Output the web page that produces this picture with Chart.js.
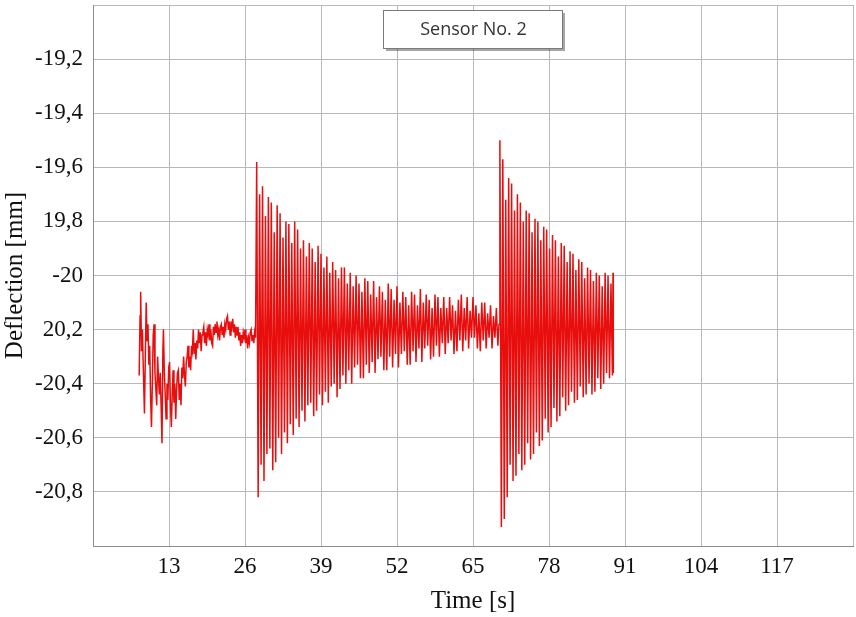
<!DOCTYPE html>
<html>
<head>
<meta charset="utf-8">
<script src="https://cdn.jsdelivr.net/npm/chart.js@4.4.1/dist/chart.umd.min.js"></script>
<style>
  html, body { margin: 0; padding: 0; background: #ffffff; }
  #wrap { width: 856px; height: 617px; position: relative; }
</style>
</head>
<body>
<div id="wrap"><canvas id="c" width="856" height="617"></canvas></div>
<script>
// ---------- DATA ----------
const seriesLabel = 'Sensor No. 2';
const xTitle = 'Time [s]';
const yTitle = 'Deflection [mm]';

const xTickValues = [13, 26, 39, 52, 65, 78, 91, 104, 117];
const xTickLabels = ['13', '26', '39', '52', '65', '78', '91', '104', '117'];
const yTickValues = [-19.2, -19.4, -19.6, -19.8, -20.0, -20.2, -20.4, -20.6, -20.8];
const yTickLabels = ['-19,2', '-19,4', '-19,6', '19,8', '-20', '20,2', '-20,4', '-20,6', '-20,8'];

// quiet phase before the first excitation: [time s, deflection mm]
const quietPhase = [
  [7.90,-20.37],[8.05,-20.15],[8.15,-20.06],[8.30,-20.28],[8.45,-20.20],[8.60,-20.34],[8.80,-20.51],
  [8.95,-20.30],[9.10,-20.10],[9.25,-20.24],[9.40,-20.18],[9.55,-20.33],[9.70,-20.26],[9.85,-20.45],
  [10.00,-20.56],[10.15,-20.40],[10.30,-20.22],[10.45,-20.18],[10.60,-20.36],[10.75,-20.42],[10.90,-20.48],
  [11.05,-20.30],[11.20,-20.38],[11.35,-20.44],[11.50,-20.36],[11.65,-20.48],[11.80,-20.62],[11.95,-20.28],
  [12.05,-20.20],[12.20,-20.36],[12.35,-20.44],[12.50,-20.53],[12.65,-20.40],[12.80,-20.46],[12.95,-20.34],
  [13.10,-20.32],[13.25,-20.48],[13.40,-20.56],[13.55,-20.44],[13.70,-20.35],[13.85,-20.47],[14.00,-20.40],
  [14.15,-20.53],[14.30,-20.42],[14.45,-20.36],[14.60,-20.35],[14.75,-20.46],[14.90,-20.40],[15.05,-20.48],
  [15.20,-20.34],[15.35,-20.38],[15.50,-20.30],[15.65,-20.37],[15.80,-20.41],[15.95,-20.32],[16.10,-20.30],
  [16.25,-20.26],[16.40,-20.34],[16.55,-20.30],[16.70,-20.35],[16.85,-20.26],[17.00,-20.28],[17.15,-20.20],
  [17.30,-20.29],[17.45,-20.25],[17.60,-20.31],[17.75,-20.24],[17.90,-20.27],[18.05,-20.20],[18.20,-20.25],
  [18.35,-20.21],[18.50,-20.28],[18.65,-20.22],[18.80,-20.21],[18.95,-20.19],[19.10,-20.25],[19.25,-20.21],
  [19.40,-20.26],[19.55,-20.20],[19.70,-20.22],[19.85,-20.18],[20.00,-20.24],[20.15,-20.20],[20.30,-20.25],
  [20.45,-20.26],[20.60,-20.19],[20.75,-20.22],[20.90,-20.18],[21.05,-20.21],[21.20,-20.17],[21.35,-20.22],
  [21.50,-20.20],[21.65,-20.24],[21.80,-20.19],[21.95,-20.18],[22.10,-20.22],[22.25,-20.19],[22.40,-20.23],
  [22.55,-20.18],[22.70,-20.20],[22.85,-20.16],[23.00,-20.15],[23.15,-20.20],[23.30,-20.17],[23.45,-20.22],
  [23.60,-20.17],[23.75,-20.19],[23.90,-20.16],[24.05,-20.21],[24.20,-20.18],[24.35,-20.23],[24.50,-20.19],
  [24.65,-20.22],[24.80,-20.19],[24.95,-20.24],[25.10,-20.21],[25.25,-20.26],[25.40,-20.22],[25.55,-20.25],
  [25.70,-20.21],[25.85,-20.23],[26.00,-20.20],[26.15,-20.25],[26.30,-20.22],[26.45,-20.27],[26.60,-20.23],
  [26.75,-20.25],[26.90,-20.21],[27.05,-20.20],[27.20,-20.24],[27.35,-20.22],[27.50,-20.25],[27.65,-20.21],
  [27.80,-20.23]
];

// first excitation, decaying oscillation: [time s, deflection mm]
const firstRun = [
  [28.00,-19.58],[28.25,-20.82],[28.50,-19.70],[28.75,-20.70],
  [29.00,-19.67],[29.25,-20.76],[29.50,-19.78],[29.75,-20.66],
  [30.00,-19.71],[30.25,-20.64],[30.50,-19.73],[30.75,-20.72],
  [31.00,-19.84],[31.25,-20.69],[31.50,-19.74],[31.75,-20.60],
  [32.00,-19.77],[32.25,-20.66],[32.50,-19.86],[32.75,-20.58],
  [33.00,-19.80],[33.25,-20.62],[33.50,-19.81],[33.75,-20.55],
  [34.00,-19.88],[34.25,-20.59],[34.50,-19.80],[34.75,-20.53],
  [35.00,-19.83],[35.25,-20.56],[35.50,-19.90],[35.75,-20.50],
  [36.00,-19.87],[36.25,-20.54],[36.50,-19.93],[36.75,-20.48],
  [37.00,-19.88],[37.25,-20.47],[37.50,-19.90],[37.75,-20.52],
  [38.00,-19.95],[38.25,-20.50],[38.50,-19.89],[38.75,-20.44],
  [39.00,-19.92],[39.25,-20.48],[39.50,-19.97],[39.75,-20.43],
  [40.00,-19.93],[40.25,-20.47],[40.50,-19.99],[40.75,-20.41],
  [41.00,-19.95],[41.25,-20.40],[41.50,-19.98],[41.75,-20.45],
  [42.00,-20.01],[42.25,-20.42],[42.50,-19.97],[42.75,-20.37],
  [43.00,-19.97],[43.25,-20.40],[43.50,-20.03],[43.75,-20.35],
  [44.00,-19.99],[44.25,-20.40],[44.50,-20.04],[44.75,-20.34],
  [45.00,-20.00],[45.25,-20.33],[45.50,-20.03],[45.75,-20.38],
  [46.00,-20.06],[46.25,-20.38],[46.50,-20.01],[46.75,-20.33],
  [47.00,-20.02],[47.25,-20.36],[47.50,-20.07],[47.75,-20.32],
  [48.00,-20.02],[48.25,-20.36],[48.50,-20.08],[48.75,-20.31],
  [49.00,-20.04],[49.25,-20.30],[49.50,-20.06],[49.75,-20.35],
  [50.00,-20.09],[50.25,-20.35],[50.50,-20.03],[50.75,-20.30],
  [51.00,-20.05],[51.25,-20.34],[51.50,-20.09],[51.75,-20.29],
  [52.00,-20.04],[52.25,-20.34],[52.50,-20.10],[52.75,-20.29],
  [53.00,-20.06],[53.25,-20.28],[53.50,-20.08],[53.75,-20.33],
  [54.00,-20.11],[54.25,-20.33],[54.50,-20.06],[54.75,-20.28],
  [55.00,-20.07],[55.25,-20.32],[55.50,-20.11],[55.75,-20.27],
  [56.00,-20.05],[56.25,-20.32],[56.50,-20.10],[56.75,-20.27],
  [57.00,-20.07],[57.25,-20.26],[57.50,-20.09],[57.75,-20.31],
  [58.00,-20.12],[58.25,-20.30],[58.50,-20.07],[58.75,-20.26],
  [59.00,-20.08],[59.25,-20.30],[59.50,-20.12],[59.75,-20.25],
  [60.00,-20.08],[60.25,-20.29],[60.50,-20.12],[60.75,-20.25],
  [61.00,-20.08],[61.25,-20.24],[61.50,-20.11],[61.75,-20.29],
  [62.00,-20.13],[62.25,-20.28],[62.50,-20.09],[62.75,-20.24],
  [63.00,-20.07],[63.25,-20.28],[63.50,-20.12],[63.75,-20.24],
  [64.00,-20.08],[64.25,-20.27],[64.50,-20.13],[64.75,-20.23],
  [65.00,-20.08],[65.25,-20.23],[65.50,-20.11],[65.75,-20.27],
  [66.00,-20.14],[66.25,-20.28],[66.50,-20.10],[66.75,-20.24],
  [67.00,-20.10],[67.25,-20.27],[67.50,-20.14],[67.75,-20.23],
  [68.00,-20.11],[68.25,-20.27],[68.50,-20.15],[68.75,-20.23],
  [69.00,-20.12],[69.25,-20.26],[69.45,-20.18]
];

// second excitation, decaying oscillation: [time s, deflection mm]
const secondRun = [
  [69.60,-19.50],[69.85,-20.93],[70.10,-19.57],[70.35,-20.90],[70.60,-19.72],[70.85,-20.82],
  [71.10,-19.64],[71.35,-20.70],[71.60,-19.66],[71.85,-20.76],[72.10,-19.76],[72.35,-20.74],
  [72.60,-19.70],[72.85,-20.66],[73.10,-19.73],[73.35,-20.72],[73.60,-19.80],[73.85,-20.70],
  [74.10,-19.76],[74.35,-20.62],[74.60,-19.77],[74.85,-20.68],[75.10,-19.84],[75.35,-20.66],
  [75.60,-19.79],[75.85,-20.58],[76.10,-19.80],[76.35,-20.63],[76.60,-19.87],[76.85,-20.61],
  [77.10,-19.82],[77.35,-20.53],[77.60,-19.83],[77.85,-20.58],[78.10,-19.90],[78.35,-20.56],
  [78.60,-19.85],[78.85,-20.49],[79.10,-19.87],[79.35,-20.54],[79.60,-19.93],[79.85,-20.52],
  [80.10,-19.88],[80.35,-20.45],[80.60,-19.89],[80.85,-20.50],[81.10,-19.95],[81.35,-20.48],
  [81.60,-19.91],[81.85,-20.43],[82.10,-19.92],[82.35,-20.47],[82.60,-19.98],[82.85,-20.46],
  [83.10,-19.94],[83.35,-20.41],[83.60,-19.95],[83.85,-20.45],[84.10,-20.01],[84.35,-20.44],
  [84.60,-19.97],[84.85,-20.40],[85.10,-19.98],[85.35,-20.44],[85.60,-20.02],[85.85,-20.43],
  [86.10,-19.99],[86.35,-20.38],[86.60,-20.00],[86.85,-20.42],[87.10,-20.04],[87.35,-20.40],
  [87.60,-19.99],[87.85,-20.36],[88.10,-20.00],[88.35,-20.38],[88.60,-20.03],[88.85,-20.37],
  [88.95,-19.99],[89.00,-20.36]
];

// ---------- CHART ----------
const points = quietPhase.concat(firstRun, secondRun).map(p => ({ x: p[0], y: p[1] }));

function labelFor(values, labels, v) {
  for (let i = 0; i < values.length; i++) {
    if (Math.abs(values[i] - v) < 1e-6) return labels[i];
  }
  return '';
}

const legendBox = {
  id: 'legendBox',
  afterDraw(chart) {
    const ctx = chart.ctx;
    const x = 383, y = 10, w = 179, h = 38;
    ctx.save();
    ctx.fillStyle = 'rgba(0,0,0,0.35)';
    ctx.fillRect(x + 3, y + 3, w, h);
    ctx.fillStyle = '#ffffff';
    ctx.fillRect(x, y, w, h);
    ctx.strokeStyle = '#7a7a7a';
    ctx.lineWidth = 1;
    ctx.strokeRect(x + 0.5, y + 0.5, w, h);
    ctx.fillStyle = '#333333';
    ctx.font = '18px "Open Sans", "Noto Sans", sans-serif';
    ctx.textAlign = 'center';
    ctx.textBaseline = 'middle';
    ctx.fillText(seriesLabel, x + w / 2 + 1, y + h / 2 + 1);
    ctx.restore();
  }
};

const serif = '"Liberation Serif", "Times New Roman", serif';

new Chart(document.getElementById('c'), {
  type: 'line',
  data: {
    datasets: [{
      label: seriesLabel,
      data: points,
      borderColor: 'rgb(232,14,14)',
      borderWidth: 1.5,
      pointRadius: 0,
      fill: false,
      tension: 0
    }]
  },
  options: {
    responsive: false,
    animation: false,
    events: [],
    layout: { padding: { left: 0, top: 5, right: 3, bottom: 0 } },
    plugins: { legend: { display: false }, tooltip: { enabled: false }, title: { display: false } },
    scales: {
      x: {
        type: 'linear',
        min: 0, max: 130,
        afterFit(scale) {
          scale.height = 71;
          scale.paddingLeft = 0; scale.paddingRight = 0;
        },
        ticks: {
          stepSize: 13,
          autoSkip: false,
          maxRotation: 0,
          padding: 7,
          color: '#111',
          font: { family: serif, size: 23 },
          callback: v => labelFor(xTickValues, xTickLabels, v)
        },
        grid: { color: '#b9b9b9', lineWidth: 1, tickLength: 0 },
        border: { color: '#8c8c8c', width: 1 },
        title: {
          display: true, text: xTitle, color: '#111',
          font: { family: serif, size: 25 },
          padding: { top: 0, bottom: 1 }
        }
      },
      y: {
        type: 'linear',
        min: -21, max: -19,
        afterFit(scale) {
          scale.width = 93;
          scale.paddingTop = 0; scale.paddingBottom = 0;
        },
        ticks: {
          stepSize: 0.2,
          autoSkip: false,
          padding: 10,
          color: '#111',
          font: { family: serif, size: 23 },
          callback: v => labelFor(yTickValues, yTickLabels, v)
        },
        grid: { color: '#b9b9b9', lineWidth: 1, tickLength: 0 },
        border: { color: '#8c8c8c', width: 1 },
        title: {
          display: true, text: yTitle, color: '#111',
          font: { family: serif, size: 25 },
          padding: { top: 0, bottom: 0 }
        }
      }
    }
  },
  plugins: [legendBox]
});
</script>
</body>
</html>
